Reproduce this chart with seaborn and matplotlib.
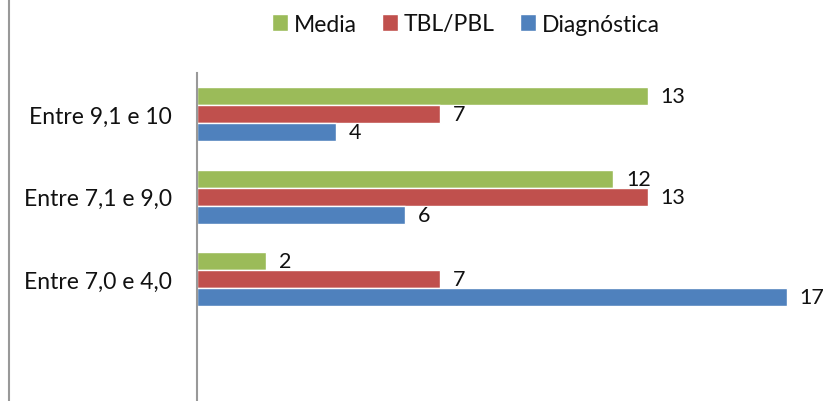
import numpy as np
import pandas as pd
import matplotlib
matplotlib.use("Agg")
import matplotlib.pyplot as plt
import seaborn as sns
from matplotlib.lines import Line2D

categories = ["Entre 9,1 e 10", "Entre 7,1 e 9,0", "Entre 7,0 e 4,0"]
series = ["Media", "TBL/PBL", "Diagnóstica"]
media = [13, 12, 2]
tbl_pbl = [7, 13, 7]
diagnostica = [4, 6, 17]
colors = ["#9BBB59", "#C0504D", "#4F81BD"]

df = pd.DataFrame({
    "cat": categories * 3,
    "serie": [s for s in series for _ in categories],
    "valor": media + tbl_pbl + diagnostica,
})

sns.set_style("white")
plt.rcParams["font.family"] = ["Lato", "DejaVu Sans"]

fig = plt.figure(figsize=(8.25, 4.02), dpi=100)
ax = fig.add_axes([197 / 825, 0, 1 - 197 / 825 - 0.03, 1 - 74 / 402])

sns.barplot(data=df, x="valor", y="cat", hue="serie", order=categories,
            hue_order=series, palette=colors, orient="h", width=0.655,
            saturation=1, ax=ax, legend=True)

for cont in ax.containers:
    ax.bar_label(cont, padding=9, fontsize=15.5, color="#111111")

ax.set_xlim(0, (825 - 197 - 0.03 * 825) / 34.7)
ax.set_ylim(3.48, -0.5)
ax.set_xlabel("")
ax.set_ylabel("")
ax.set_xticks([])
ax.tick_params(axis="y", length=0, pad=18, labelsize=16.5, labelcolor="#111111")
for s in ["top", "right", "bottom"]:
    ax.spines[s].set_visible(False)
ax.spines["left"].set_color("#999999")
ax.spines["left"].set_linewidth(1.5)

handles, labels = ax.get_legend_handles_labels()
ax.get_legend().remove()
leg = fig.legend(handles, labels, loc="center", bbox_to_anchor=(466 / 825, 1 - 25 / 402),
                 ncol=3, frameon=False, fontsize=16.5, handlelength=0.7,
                 handleheight=0.7, handletextpad=0.25, columnspacing=1.1)
for t in leg.get_texts():
    t.set_color("#111111")

# outer chart frame edge on the left
fig.add_artist(Line2D([9 / 825, 9 / 825], [0, 1], color="#999999", lw=1.5,
                      transform=fig.transFigure))

fig.savefig("out.png", dpi=100)
